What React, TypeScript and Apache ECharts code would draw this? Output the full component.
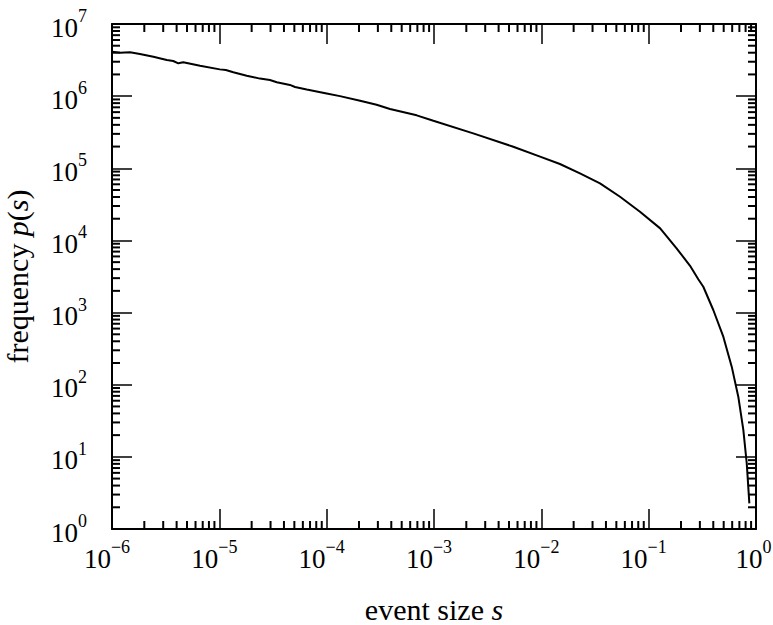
import React, { useEffect, useRef } from "react";
import * as echarts from "echarts";

const eventSizes = [
  1.0e-6, 1.19e-6, 1.47e-6, 1.82e-6, 2.43e-6, 3.24e-6, 3.72e-6, 4.15e-6, 4.61e-6, 6.61e-6,
  1.01e-5, 1.15e-5, 1.35e-5, 1.8e-5, 2.39e-5, 2.96e-5, 3.43e-5, 4.55e-5, 5.07e-5, 6.52e-5,
  1.0e-4, 1.33e-4, 2.05e-4, 2.92e-4, 3.89e-4, 6.9e-4, 9.86e-4,
  2.32e-3, 5.48e-3, 9.73e-3, 0.0149, 0.0229, 0.0352, 0.0541, 0.083, 0.128,
  0.182, 0.243, 0.29, 0.323, 0.4, 0.496, 0.594, 0.684, 0.762, 0.82, 0.867,
];
const frequencies = [
  4.13e6, 4.01e6, 4.05e6, 3.84e6, 3.52e6, 3.17e6, 3.07e6, 2.85e6, 2.94e6, 2.64e6,
  2.35e6, 2.3e6, 2.14e6, 1.92e6, 1.75e6, 1.67e6, 1.56e6, 1.43e6, 1.34e6, 1.24e6,
  1.09e6, 1.0e6, 8.65e5, 7.6e5, 6.64e5, 5.42e5, 4.57e5,
  3.05e5, 1.99e5, 1.45e5, 1.146e5, 8.51e4, 6.18e4, 4.03e4, 2.5e4, 1.47e4,
  7.78e3, 4.45e3, 2.9e3, 2.28e3, 1085, 463, 178, 68.2, 23.6, 8.13, 2.27,
];

const xDecades = [-6, -5, -4, -3, -2, -1];
const yDecades = [0, 1, 2, 3, 4, 5, 6];
const minorMultipliers = [2, 3, 4, 5, 6, 7, 8, 9];

const X_MIN = 1e-6;
const X_MAX = 1;
const Y_MIN = 1;
const Y_MAX = 1e7;

const FONT = "'Liberation Serif', 'Times New Roman', serif";

function expLabel(v: number): string {
  const e = Math.round(Math.log10(v));
  if (e === 0) return "{b|10}{s0|0}";
  return "{b|10}{s|" + (e < 0 ? "\u2212" + String(-e) : String(e)) + "}";
}

export default function App() {
  const ref = useRef<HTMLDivElement>(null);
  useEffect(() => {
    if (!ref.current) return;
    const chart = echarts.init(ref.current, undefined, { renderer: "svg" });

    const xMinorData: number[][] = [];
    xDecades.forEach((d) =>
      minorMultipliers.forEach((m) => xMinorData.push([m * Math.pow(10, d), Y_MIN]))
    );
    const yMinorData: number[][] = [];
    yDecades.forEach((d) =>
      minorMultipliers.forEach((m) => yMinorData.push([X_MIN, m * Math.pow(10, d)]))
    );

    const MINOR_LEN = 8;
    const minorStyle = { stroke: "#000", lineWidth: 2 };

    const BASE_LH = 34;
    const richY = {
      b: { fontSize: 27, fontFamily: FONT, color: "#000", lineHeight: BASE_LH, verticalAlign: "bottom" },
      s: { fontSize: 18, fontFamily: FONT, color: "#000", lineHeight: 18, verticalAlign: "top" },
      s0: { fontSize: 18, fontFamily: FONT, color: "#000", lineHeight: 18, verticalAlign: "top" },
    };
    const richX = {
      b: { fontSize: 27, fontFamily: FONT, color: "#000", lineHeight: BASE_LH, verticalAlign: "bottom" },
      s: { fontSize: 18, fontFamily: FONT, color: "#000", lineHeight: 18, verticalAlign: "top", padding: [0, 10, 0, 0] },
      s0: { fontSize: 18, fontFamily: FONT, color: "#000", lineHeight: 18, verticalAlign: "top", padding: [0, 5, 0, 0] },
    };

    const axisLine = { show: true, onZero: false, lineStyle: { color: "#000", width: 2 } };
    const majorTick = { show: true, inside: true, length: 20, lineStyle: { color: "#000", width: 1.5 } };

    chart.setOption({
      animation: false,
      backgroundColor: "#fff",
      grid: { left: 112, right: 17, top: 24, bottom: 96, containLabel: false, outerBoundsMode: "none" },
      xAxis: [
        {
          type: "log",
          logBase: 10,
          min: X_MIN,
          max: X_MAX,
          splitNumber: 6,
          position: "bottom",
          axisLine,
          axisTick: majorTick,
          splitLine: { show: false },
          axisLabel: {
            show: true,
            margin: 9,
            formatter: expLabel,
            rich: richX,
            showMinLabel: true,
            showMaxLabel: true,
            hideOverlap: false,
          },
          name: "event size {i|s}",
          nameLocation: "middle",
          nameGap: 65,
          nameTextStyle: {
            fontSize: 30,
            fontFamily: FONT,
            color: "#000",
            rich: { i: { fontSize: 30, fontFamily: FONT, fontStyle: "italic", color: "#000" } },
          },
        },
        {
          type: "log",
          logBase: 10,
          min: X_MIN,
          max: X_MAX,
          splitNumber: 6,
          position: "top",
          axisLine,
          axisTick: majorTick,
          splitLine: { show: false },
          axisLabel: { show: false },
        },
      ],
      yAxis: [
        {
          type: "log",
          logBase: 10,
          min: Y_MIN,
          max: Y_MAX,
          splitNumber: 7,
          position: "left",
          axisLine,
          axisTick: majorTick,
          splitLine: { show: false },
          axisLabel: {
            show: true,
            margin: 25,
            formatter: expLabel,
            rich: richY,
            showMinLabel: true,
            showMaxLabel: true,
            hideOverlap: false,
          },
          name: "frequency {i|p}({i|s})",
          nameLocation: "middle",
          nameGap: 80,
          nameTextStyle: {
            fontSize: 30,
            fontFamily: FONT,
            color: "#000",
            rich: { i: { fontSize: 30, fontFamily: FONT, fontStyle: "italic", color: "#000" } },
          },
        },
        {
          type: "log",
          logBase: 10,
          min: Y_MIN,
          max: Y_MAX,
          splitNumber: 7,
          position: "right",
          axisLine,
          axisTick: majorTick,
          splitLine: { show: false },
          axisLabel: { show: false },
        },
      ],
      series: [
        {
          type: "line",
          xAxisIndex: 0,
          yAxisIndex: 0,
          data: eventSizes.map((s, i) => [s, frequencies[i]]),
          showSymbol: false,
          symbol: "none",
          smooth: false,
          lineStyle: { color: "#000", width: 2 },
          z: 3,
        },
        {
          type: "custom",
          xAxisIndex: 0,
          yAxisIndex: 0,
          clip: false,
          data: xMinorData,
          renderItem: (params: any, api: any) => {
            const cs = params.coordSys;
            const p = api.coord([api.value(0), api.value(1)]);
            const bottom = cs.y + cs.height;
            return {
              type: "group",
              children: [
                { type: "line", shape: { x1: p[0], y1: bottom, x2: p[0], y2: bottom - MINOR_LEN }, style: minorStyle },
                { type: "line", shape: { x1: p[0], y1: cs.y, x2: p[0], y2: cs.y + MINOR_LEN }, style: minorStyle },
              ],
            };
          },
        },
        {
          type: "custom",
          xAxisIndex: 0,
          yAxisIndex: 0,
          clip: false,
          data: yMinorData,
          renderItem: (params: any, api: any) => {
            const cs = params.coordSys;
            const p = api.coord([api.value(0), api.value(1)]);
            const right = cs.x + cs.width;
            return {
              type: "group",
              children: [
                { type: "line", shape: { x1: cs.x, y1: p[1], x2: cs.x + MINOR_LEN, y2: p[1] }, style: minorStyle },
                { type: "line", shape: { x1: right, y1: p[1], x2: right - MINOR_LEN, y2: p[1] }, style: minorStyle },
              ],
            };
          },
        },
      ],
    });
    return () => chart.dispose();
  }, []);

  return (
    <div
      ref={ref}
      style={{ position: "absolute", left: 0, top: 0, width: 773, height: 625, background: "#fff" }}
    />
  );
}
